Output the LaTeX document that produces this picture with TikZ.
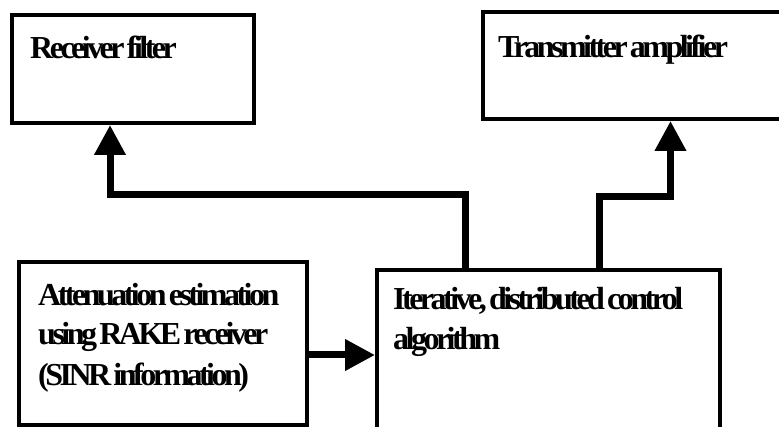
\documentclass[tikz,border=0pt]{standalone}
\usepackage{fontspec}
\usetikzlibrary{arrows.meta}
\newfontfamily\boxfont{Liberation Serif}[LetterSpace=-11, WordSpace=0.5]

\tikzset{
    blk/.style={draw, line width=4pt, rectangle, inner sep=0pt, anchor=north west},
    lbl/.style={anchor=base west, inner sep=0pt, align=left,
        font=\boxfont\bfseries\fontsize{32}{40}\selectfont},
    flow/.style={line width=7pt, -{Triangle[length=30pt,width=30pt]}}
}

\begin{document}
\begin{tikzpicture}[x=1pt,y=-1pt]
\useasboundingbox (0,0) rectangle (779,427);
\clip (0,0) rectangle (779,427);

\node[blk, minimum width=242pt, minimum height=108pt] (rx) at (10,13) {};
\node[blk, minimum width=310pt, minimum height=107pt] (tx) at (481,10) {};
\node[blk, minimum width=288pt, minimum height=163pt] (att) at (17,260) {};
\node[blk, minimum width=343pt, minimum height=240pt] (alg) at (375,268) {};

% base anchor sits on the last line
\node[lbl] (rxtext) at (30,59) {Receiver filter};
\node[lbl] (txtext) at (498,58) {Transmitter amplifier};
\node[lbl] (atttext) at (38,385) {Attenuation estimation\\using RAKE receiver\\(SINR information)};
\node[lbl] (algtext) at (393,350) {Iterative, distributed control\\algorithm};

\coordinate (in) at ([yshift=-11.5pt]att.east);
\draw[flow] (in) -- (in -| alg.west);
\draw[flow] ([xshift=-83.5pt]alg.north) -- ++(0,-73) -| ([xshift=-23pt]rx.south);
\draw[flow] ([xshift=50.5pt]alg.north) -- ++(0,-71) -| ([xshift=32.5pt]tx.south);
\end{tikzpicture}
\end{document}
